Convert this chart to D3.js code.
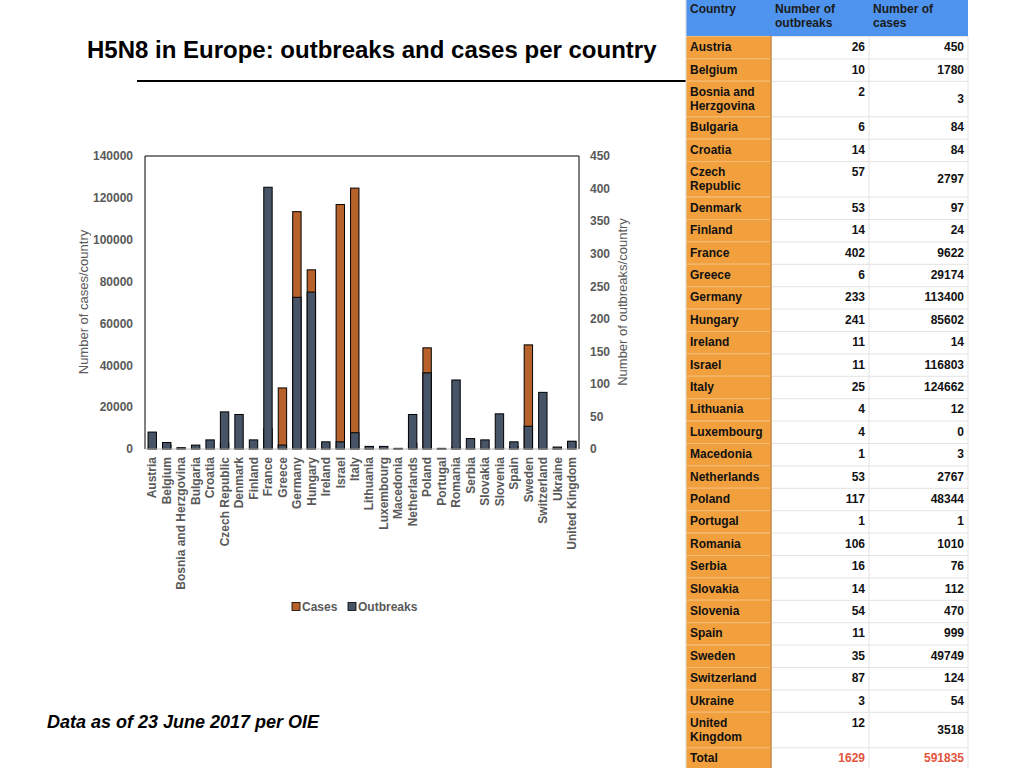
<!DOCTYPE html>
<html>
<head>
<meta charset="utf-8">
<script src="https://cdn.jsdelivr.net/npm/d3@7"></script>
<style>
  body { margin: 0; background: #fff; }
  svg { display: block; font-family: "Liberation Sans", Arial, sans-serif; }
</style>
</head>
<body>
<svg width="1024" height="768"></svg>
<script>
const countries = ["Austria", "Belgium", "Bosnia and Herzgovina", "Bulgaria", "Croatia",
  "Czech Republic", "Denmark", "Finland", "France", "Greece", "Germany", "Hungary",
  "Ireland", "Israel", "Italy", "Lithuania", "Luxembourg", "Macedonia", "Netherlands",
  "Poland", "Portugal", "Romania", "Serbia", "Slovakia", "Slovenia", "Spain", "Sweden",
  "Switzerland", "Ukraine", "United Kingdom"];
const outbreaks = [26, 10, 2, 6, 14, 57, 53, 14, 402, 6, 233, 241, 11, 11, 25, 4, 4, 1, 53,
  117, 1, 106, 16, 14, 54, 11, 35, 87, 3, 12];
const cases = [450, 1780, 3, 84, 84, 2797, 97, 24, 9622, 29174, 113400, 85602, 14, 116803,
  124662, 12, 0, 3, 2767, 48344, 1, 1010, 76, 112, 470, 999, 49749, 124, 54, 3518];
const casesTicks = [0, 20000, 40000, 60000, 80000, 100000, 120000, 140000];
const outbreakTicks = [0, 50, 100, 150, 200, 250, 300, 350, 400, 450];
const tableHeader = ["Country", "Number of outbreaks", "Number of cases"];
const totalLabel = "Total";

const svg = d3.select("svg");
const textGray = "#595959";
const caseColor = "#b8622b", outbreakColor = "#475366";

// ---- title block
svg.append("text").attr("x", 87).attr("y", 58)
  .attr("font-size", 24).attr("font-weight", "bold").attr("fill", "#000")
  .text("H5N8 in Europe: outbreaks and cases per country");
svg.append("line").attr("x1", 137).attr("x2", 686).attr("y1", 81).attr("y2", 81)
  .attr("stroke", "#000").attr("stroke-width", 2);
svg.append("text").attr("x", 47).attr("y", 728)
  .attr("font-size", 18).attr("font-weight", "bold").attr("font-style", "italic")
  .text("Data as of 23 June 2017 per OIE");

// ---- chart
const plot = { left: 145, right: 579, top: 156, bottom: 449 };

const x = d3.scaleBand().domain(countries).range([plot.left, plot.right])
  .paddingInner(0.42).paddingOuter(0.21);
const yCases = d3.scaleLinear().domain([0, 140000]).range([plot.bottom, plot.top]);
const yOut = d3.scaleLinear().domain([0, 450]).range([plot.bottom, plot.top]);

const rows = countries.map((c, i) => ({ country: c, outbreaks: outbreaks[i], cases: cases[i] }));

const chart = svg.append("g");

// cases behind, outbreaks in front (they share the same slot)
chart.selectAll("rect.cases").data(rows).join("rect").attr("class", "cases")
  .attr("x", d => x(d.country)).attr("width", x.bandwidth())
  .attr("y", d => yCases(d.cases)).attr("height", d => plot.bottom - yCases(d.cases))
  .attr("fill", caseColor).attr("stroke", "#000").attr("stroke-width", 1);
chart.selectAll("rect.out").data(rows).join("rect").attr("class", "out")
  .attr("x", d => x(d.country)).attr("width", x.bandwidth())
  .attr("y", d => yOut(d.outbreaks)).attr("height", d => plot.bottom - yOut(d.outbreaks))
  .attr("fill", outbreakColor).attr("stroke", "#000").attr("stroke-width", 1);

// frame
chart.append("path")
  .attr("d", `M${plot.left},${plot.bottom}V${plot.top}H${plot.right}V${plot.bottom}`)
  .attr("fill", "none").attr("stroke", "#000").attr("stroke-width", 1);
chart.append("line").attr("x1", plot.left).attr("x2", plot.right)
  .attr("y1", plot.bottom).attr("y2", plot.bottom).attr("stroke", "#bdbdbd");

// axes
const leftAxis = svg.append("g").attr("transform", `translate(${plot.left},0)`)
  .call(d3.axisLeft(yCases).tickValues(casesTicks).tickSize(0).tickPadding(12).tickFormat(d3.format("d")));
const rightAxis = svg.append("g").attr("transform", `translate(${plot.right},0)`)
  .call(d3.axisRight(yOut).tickValues(outbreakTicks).tickSize(0).tickPadding(11).tickFormat(d3.format("d")));
const bottomAxis = svg.append("g").attr("transform", `translate(0,${plot.bottom})`)
  .call(d3.axisBottom(x).tickSize(0));

[leftAxis, rightAxis, bottomAxis].forEach(a => {
  a.select(".domain").remove();
  a.selectAll("text").attr("fill", textGray).attr("font-weight", "bold")
    .attr("font-family", "Liberation Sans, Arial, sans-serif");
});
leftAxis.selectAll("text").attr("font-size", 12);
rightAxis.selectAll("text").attr("font-size", 12);
bottomAxis.selectAll("text").attr("font-size", 12)
  .attr("text-anchor", "end").attr("transform", "rotate(-90)")
  .attr("x", -8).attr("y", 0).attr("dy", "0.35em");

svg.append("text").attr("transform", "translate(88,302) rotate(-90)")
  .attr("text-anchor", "middle").attr("font-size", 13).attr("fill", textGray)
  .text("Number of cases/country");
svg.append("text").attr("transform", "translate(627,302) rotate(-90)")
  .attr("text-anchor", "middle").attr("font-size", 13).attr("fill", textGray)
  .text("Number of outbreaks/country");

// legend
const legend = svg.append("g").attr("transform", "translate(292,607)");
[["Cases", caseColor, 0], ["Outbreaks", outbreakColor, 56]].forEach(([label, color, dx]) => {
  legend.append("rect").attr("x", dx).attr("y", -4.5).attr("width", 8).attr("height", 8)
    .attr("fill", color).attr("stroke", "#000").attr("stroke-width", 0.8);
  legend.append("text").attr("x", dx + 10).attr("y", 4).attr("font-size", 12)
    .attr("font-weight", "bold").attr("fill", textGray).text(label);
});

// ---- table on the right
const cols = [686, 771, 869, 968];
const ctx = document.createElement("canvas").getContext("2d");
ctx.font = "bold 12px 'Liberation Sans', Arial";
function wrap(str, maxW) {
  const words = str.split(" "), lines = [];
  let cur = "";
  words.forEach(w => {
    const t = cur ? cur + " " + w : w;
    if (ctx.measureText(t).width > maxW && cur) { lines.push(cur); cur = w; } else cur = t;
  });
  lines.push(cur);
  return lines;
}

const table = svg.append("g");
const headerH = 36, singleH = 22.4, doubleH = 35.5, lineH = 14, base = 15.2;

// header
table.append("rect").attr("x", cols[0]).attr("y", 0).attr("width", cols[3] - cols[0])
  .attr("height", headerH).attr("fill", "#4e94ee");
tableHeader.forEach((h, i) => {
  const lines = wrap(h, i === 0 ? 80 : 88);
  const t = table.append("text").attr("x", cols[i] + 4).attr("y", 13)
    .attr("font-size", 12).attr("font-weight", "bold").attr("fill", "#1b1b1b");
  lines.forEach((l, j) => t.append("tspan").attr("x", cols[i] + 4).attr("dy", j ? lineH : 0).text(l));
});

let yy = headerH;
const tableRows = rows.map(d => {
  const lines = wrap(d.country, 80);
  const h = lines.length > 1 ? doubleH : singleH;
  const r = { ...d, lines, y: yy, h };
  yy += h;
  return r;
});
const totalRow = {
  lines: [totalLabel], y: yy, h: 768 - yy,
  outbreaks: d3.sum(outbreaks), cases: d3.sum(cases), total: true
};
tableRows.push(totalRow);

const tr = table.selectAll("g.row").data(tableRows).join("g").attr("class", "row")
  .attr("transform", d => `translate(0,${d.y})`);
tr.append("rect").attr("x", cols[0]).attr("width", cols[1] - cols[0]).attr("height", d => d.h)
  .attr("fill", "#f1a03d");
tr.append("rect").attr("x", cols[1]).attr("width", cols[3] - cols[1]).attr("height", d => d.h)
  .attr("fill", "#fff");
tr.append("line").attr("x1", cols[0]).attr("x2", cols[1]).attr("y1", 0.5).attr("y2", 0.5)
  .attr("stroke", "#f5bb74");
tr.append("line").attr("x1", cols[1]).attr("x2", cols[3]).attr("y1", 0.5).attr("y2", 0.5)
  .attr("stroke", "#e3e3e3");

tr.each(function(d) {
  const g = d3.select(this);
  const t = g.append("text").attr("x", cols[0] + 4).attr("y", base)
    .attr("font-size", 12).attr("font-weight", "bold").attr("fill", "#111");
  d.lines.forEach((l, j) => t.append("tspan").attr("x", cols[0] + 4).attr("dy", j ? lineH : 0).text(l));
  const numColor = d.total ? "#e2533d" : "#111";
  g.append("text").attr("x", cols[2] - 4).attr("y", base).attr("text-anchor", "end")
    .attr("font-size", 12).attr("font-weight", "bold").attr("fill", numColor).text(d.outbreaks);
  g.append("text").attr("x", cols[3] - 4).attr("y", d.lines.length > 1 ? d.h / 2 + 4.5 : base)
    .attr("text-anchor", "end").attr("font-size", 12).attr("font-weight", "bold")
    .attr("fill", numColor).text(d.cases);
});

// column dividers
[cols[1], cols[2], cols[3]].forEach((cx, i) => {
  table.append("line").attr("x1", cx).attr("x2", cx).attr("y1", headerH).attr("y2", 768)
    .attr("stroke", i === 0 ? "#c98a45" : "#e3e3e3").attr("stroke-width", i === 0 ? 1.5 : 1);
});
table.append("line").attr("x1", cols[0]).attr("x2", cols[0]).attr("y1", 0).attr("y2", 768)
  .attr("stroke", "#d9d9d9");
</script>
</body>
</html>
